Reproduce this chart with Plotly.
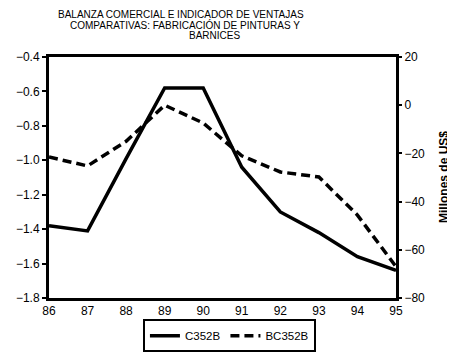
import plotly.graph_objects as go

years = [86, 87, 88, 89, 90, 91, 92, 93, 94, 95]
year_labels = ["86", "87", "88", "89", "90", "91", "92", "93", "94", "95"]
c352b = [-1.38, -1.41, -0.99, -0.58, -0.58, -1.04, -1.30, -1.42, -1.56, -1.64]
bc352b = [-21.5, -25.2, -15.0, 0.0, -7.4, -21.0, -27.7, -29.8, -45.6, -67.0]

FONT = "Liberation Sans, Arial, sans-serif"

fig = go.Figure()
fig.add_trace(go.Scatter(x=years, y=c352b, name="C352B", mode="lines",
                         line=dict(color="black", width=3.5), yaxis="y"))
fig.add_trace(go.Scatter(x=years, y=bc352b, name="BC352B", mode="lines",
                         line=dict(color="black", width=3.5, dash="9px,5px"), yaxis="y2"))

# page body has an 8px margin, so the figure is sized/offset to compensate
fig.update_layout(
    width=447, height=346,
    margin=dict(l=41, r=59, t=49, b=56, autoexpand=False),
    paper_bgcolor="white", plot_bgcolor="white",
    font=dict(family=FONT, size=12, color="black"),
    showlegend=True,
    legend=dict(orientation="h", x=0.52, xanchor="center", y=-0.088, yanchor="top",
                bordercolor="black", borderwidth=2, font=dict(size=11.5, family=FONT),
                itemwidth=30, tracegroupgap=0),
    xaxis=dict(range=[86, 95], tickvals=years, ticktext=year_labels, showgrid=False,
               zeroline=False, showline=True, linecolor="black", linewidth=3, mirror=True,
               ticks="", tickfont=dict(size=12)),
    yaxis=dict(range=[-1.8, -0.4], dtick=0.2, tick0=-1.8, tickformat=".1f", showgrid=False,
               zeroline=False, showline=True, linecolor="black", linewidth=3,
               ticks="outside", ticklen=4, tickwidth=2, tickcolor="black",
               tickfont=dict(size=12)),
    yaxis2=dict(range=[-80, 20], dtick=20, tick0=-80, overlaying="y", side="right",
                showgrid=False, zeroline=False, showline=True, linecolor="black", linewidth=3,
                ticks="outside", ticklen=3, tickwidth=2, tickcolor="black",
                tickfont=dict(size=12)),
)

title_lines = [("BALANZA COMERCIAL E INDICADOR DE VENTAJAS", 181, 14.5),
               ("COMPARATIVAS: FABRICACIÓN DE PINTURAS Y", 185, 25),
               ("BARNICES", 214, 35.5)]
for txt, xc, yc in title_lines:
    fig.add_annotation(text=txt, xref="paper", yref="paper",
                       x=(xc - 49) / 347, y=1 + (57 - yc) / 241,
                       xanchor="center", yanchor="middle", showarrow=False,
                       font=dict(size=10, family=FONT, color="black"))

fig.add_annotation(text="<b>Millones de US$</b>", xref="paper", yref="paper",
                   x=(444 - 49) / 347, y=1 - (177 - 57) / 241, textangle=-90,
                   xanchor="center", yanchor="middle", showarrow=False,
                   font=dict(size=12, family=FONT, color="black"))

fig.write_html("out.html")
